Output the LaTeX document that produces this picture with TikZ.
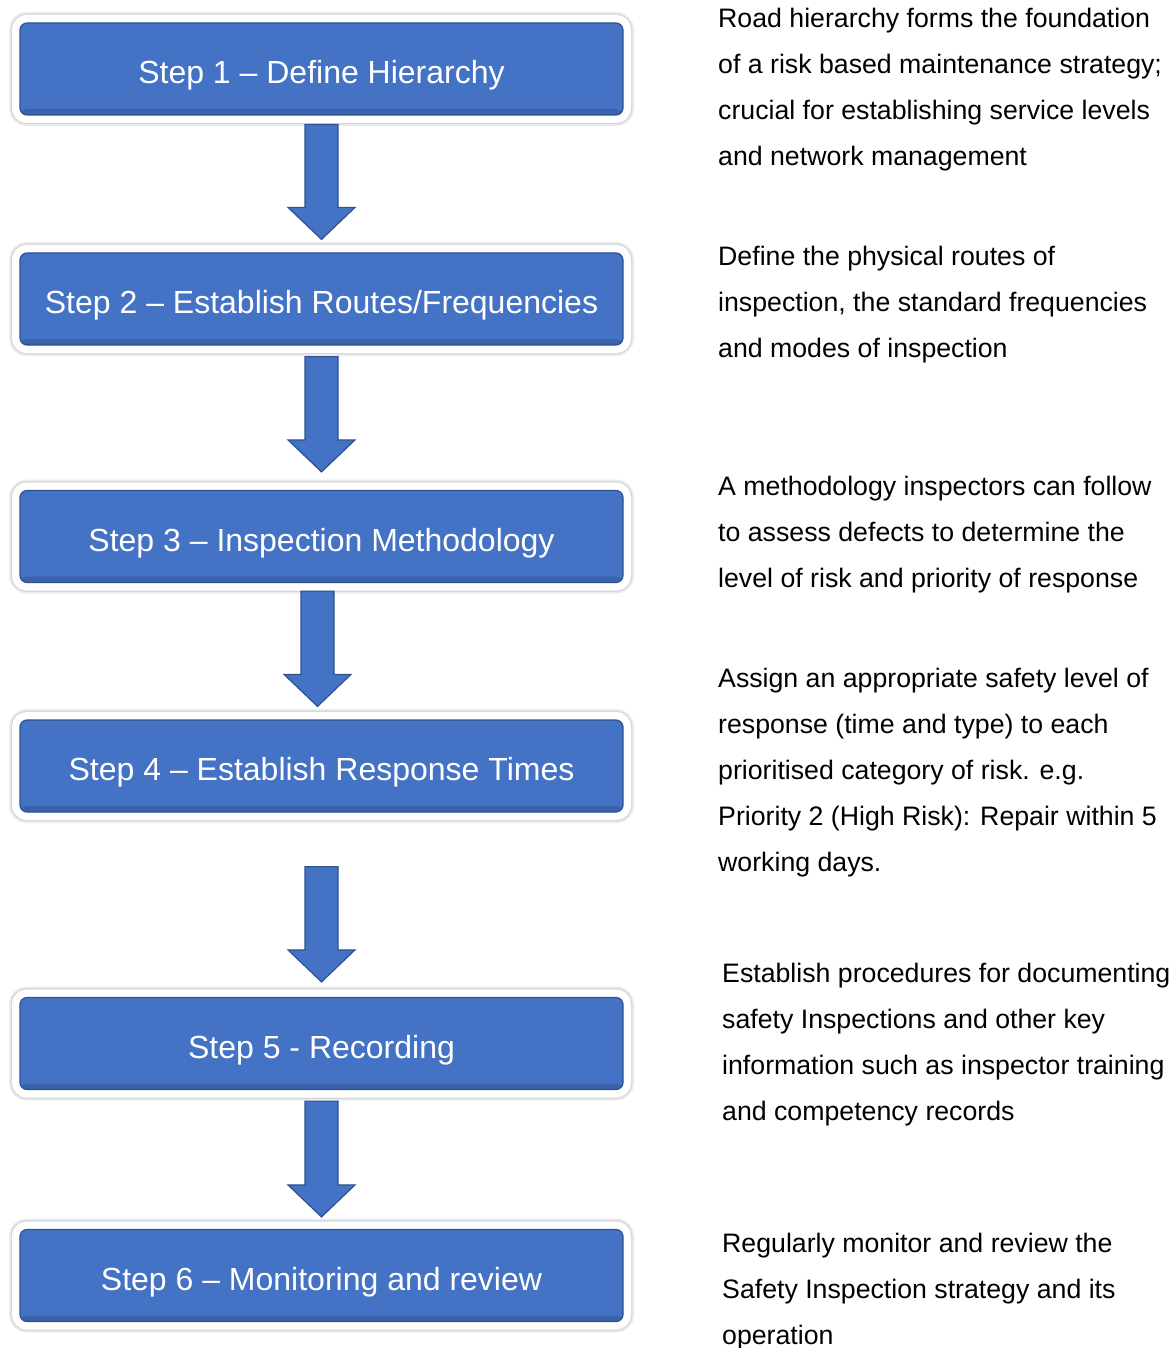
\documentclass[tikz,border=0pt]{standalone}
\usepackage{fontspec}
\setmainfont{Liberation Sans}
\usetikzlibrary{calc}
\definecolor{stepblue}{HTML}{4472C4}
\definecolor{stepedge}{HTML}{2F528F}
\tikzset{
  stepbox/.style={shape=rectangle, rounded corners=7pt, minimum width=603pt, minimum height=92pt,
    inner sep=0pt, text height=29pt, text depth=0pt, fill=stepblue, draw=stepedge, line width=1.2pt,
    text=white, font=\fontsize{32}{38}\selectfont,
    preaction={draw=black!8, line width=22pt},
    preaction={draw=black!16, line width=18.5pt},
    preaction={draw=white, line width=16pt},
    path picture={\fill[stepedge, opacity=.45] (path picture bounding box.south west)
      rectangle ([yshift=6pt]path picture bounding box.south east);}},
  note/.style={anchor=north west, align=left, inner sep=0pt, font=\fontsize{26.7}{46}\selectfont},
  blockarrow/.style={fill=stepblue, draw=stepedge, line width=1.2pt, line join=miter,
    to path={($(\tikztostart)+(-16.5,0)$) -- ($(\tikztotarget)+(-16.5,-32)$)
      -- ($(\tikztotarget)+(-33.5,-32)$) -- (\tikztotarget) -- ($(\tikztotarget)+(33.5,-32)$)
      -- ($(\tikztotarget)+(16.5,-32)$) -- ($(\tikztostart)+(16.5,0)$) -- cycle}}
}
\begin{document}
\begin{tikzpicture}
[x=1pt, y=-1pt]
\useasboundingbox (0,0) rectangle (1174,1348);
\path (321.5,69) node (s1) [stepbox] {Step 1 -- Define Hierarchy}
(321.5,299) node (s2) [stepbox] {Step 2 -- Establish Routes/Frequencies}
(321.5,536.5) node (s3) [stepbox] {Step 3 -- Inspection Methodology}
(321.5,766) node (s4) [stepbox] {Step 4 -- Establish Response Times}
(321.5,1043.5) node (s5) [stepbox] {Step 5 - Recording}
(321.5,1275.5) node (s6) [stepbox] {Step 6 -- Monitoring and review};
\path (718,8) node (d1) [note] {Road hierarchy forms the foundation\\of a risk based maintenance strategy;\\crucial for establishing service levels\\and network management}
(718,246) node (d2) [note] {Define the physical routes of\\inspection, the standard frequencies\\and modes of inspection}
(718,476) node (d3) [note] {A methodology inspectors can follow\\to assess defects to determine the\\level of risk and priority of response}
(718,668) node (d4) [note] {Assign an appropriate safety level of\\response (time and type) to each\\prioritised category of risk. e.g.\\Priority 2 (High Risk): Repair within 5\\working days.}
(722,963) node (d5) [note] {Establish procedures for documenting\\safety Inspections and other key\\information such as inspector training\\and competency records}
(722,1233) node (d6) [note] {Regularly monitor and review the\\Safety Inspection strategy and its\\operation};
\coordinate (a1) at ([yshift=-9pt]s1.south);
\coordinate (b1) at ([yshift=13pt]s2.north);
\coordinate (a2) at ([yshift=-11pt]s2.south);
\coordinate (b2) at ([yshift=18pt]s3.north);
\coordinate (a3) at ([xshift=-4pt,yshift=-8pt]s3.south);
\coordinate (b3) at ([xshift=-4pt,yshift=13pt]s4.north);
\coordinate (a4) at ([yshift=-54pt]s4.south);
\coordinate (b4) at ([yshift=15pt]s5.north);
\coordinate (a5) at ([yshift=-11pt]s5.south);
\coordinate (b5) at ([yshift=12pt]s6.north);
\draw [blockarrow] (a1) to (b1);
\draw [blockarrow] (a2) to (b2);
\draw [blockarrow] (a3) to (b3);
\draw [blockarrow] (a4) to (b4);
\draw [blockarrow] (a5) to (b5);
\end{tikzpicture}
\end{document}
